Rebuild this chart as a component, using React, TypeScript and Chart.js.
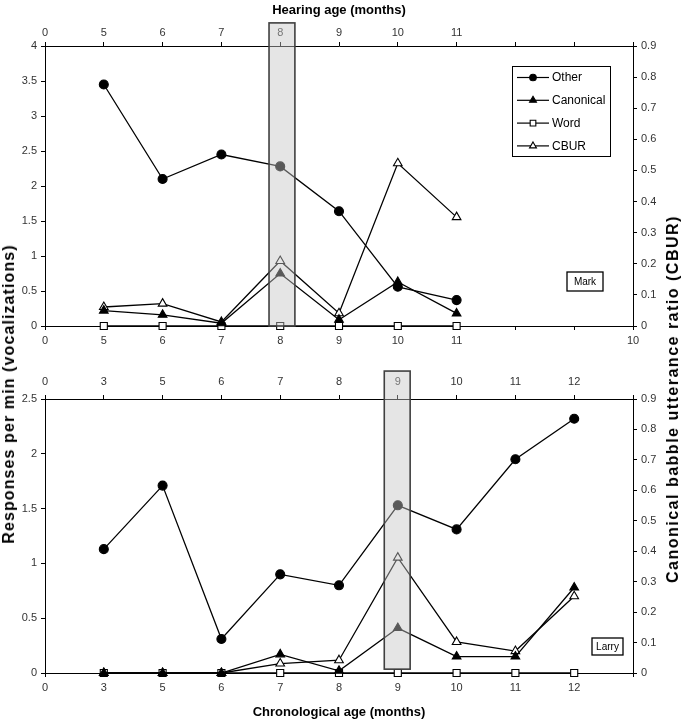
import React, { useEffect, useRef } from 'react';
import { Chart, registerables } from 'chart.js';

Chart.register(...registerables);

const FONT = '"Liberation Sans", Arial, Helvetica, sans-serif';
Chart.defaults.font.family = FONT;

// ---------- data ----------
const seriesNames = ['Other', 'Canonical', 'Word', 'CBUR'];

// Mark (top panel)
const markHearingLabels = ['0', '5', '6', '7', '8', '9', '10', '11', '', '', ''];
const markChronoLabels = ['0', '5', '6', '7', '8', '9', '10', '11', '', '', '10'];
const markOther = [3.45, 2.1, 2.45, 2.28, 1.64, 0.56, 0.37];
const markCanonical = [0.22, 0.16, 0.04, 0.75, 0.09, 0.63, 0.18];
const markWord = [0, 0, 0, 0, 0, 0, 0];
const markCBUR = [0.061, 0.072, 0.013, 0.209, 0.041, 0.523, 0.35];

// Larry (bottom panel)
const larryHearingLabels = ['0', '3', '5', '6', '7', '8', '9', '10', '11', '12', ''];
const larryChronoLabels = ['0', '3', '5', '6', '7', '8', '9', '10', '11', '12', ''];
const larryOther = [1.13, 1.71, 0.31, 0.9, 0.8, 1.53, 1.31, 1.95, 2.32];
const larryCanonical = [0, 0, 0, 0.17, 0.02, 0.41, 0.15, 0.15, 0.78];
const larryWord = [0, 0, 0, 0, 0, 0, 0, 0, 0];
const larryCBUR = [0, 0, 0, 0.031, 0.042, 0.379, 0.102, 0.072, 0.252];

// ---------- drawing helpers ----------
function drawMarker(ctx: CanvasRenderingContext2D, style: string, fill: string, x: number, y: number, r: number) {
  ctx.save();
  ctx.fillStyle = fill;
  ctx.strokeStyle = '#000';
  ctx.lineWidth = 1.1;
  ctx.beginPath();
  if (style === 'circle') {
    ctx.arc(x, y, r, 0, Math.PI * 2);
  } else if (style === 'triangle') {
    ctx.moveTo(x, y - r);
    ctx.lineTo(x + r * 0.866, y + r * 0.5);
    ctx.lineTo(x - r * 0.866, y + r * 0.5);
    ctx.closePath();
  } else {
    const s = r * 0.707;
    ctx.rect(x - s, y - s, 2 * s, 2 * s);
  }
  ctx.fill();
  ctx.stroke();
  ctx.restore();
}

const markerStyles = [
  { style: 'circle', fill: '#000' },
  { style: 'triangle', fill: '#000' },
  { style: 'rect', fill: '#fff' },
  { style: 'triangle', fill: '#fff' },
];

const fmtNum = (v: any) => String(Math.round(Number(v) * 100) / 100);

const overlayPlugin = {
  id: 'overlay',
  afterDatasetsDraw(chart: any, _args: any, opts: any) {
    const { ctx, scales } = chart;
    const h = opts.highlight;
    if (!h) return;
    const x0 = scales.x.getPixelForValue(h.from);
    const x1 = scales.x.getPixelForValue(h.to);
    const yb = scales.y.getPixelForValue(h.yFrom);
    const yt = scales.y.getPixelForValue(h.yTo);
    ctx.save();
    ctx.fillStyle = 'rgba(198,198,198,0.45)';
    ctx.fillRect(x0, yt, x1 - x0, yb - yt);
    ctx.strokeStyle = '#404040';
    ctx.lineWidth = 1.6;
    ctx.strokeRect(x0, yt, x1 - x0, yb - yt);
    ctx.restore();
  },
  afterDraw(chart: any, _args: any, opts: any) {
    const { ctx, chartArea } = chart;
    ctx.save();
    if (opts.legend) {
      const left = chartArea.right - 121;
      const top = chartArea.top + 20;
      const w = 98;
      const h = 90;
      ctx.fillStyle = '#fff';
      ctx.fillRect(left, top, w, h);
      ctx.strokeStyle = '#000';
      ctx.lineWidth = 1;
      ctx.strokeRect(left + 0.5, top + 0.5, w, h);
      chart.data.datasets.forEach((ds: any, i: number) => {
        const y = top + 11.5 + i * 22.8;
        ctx.strokeStyle = '#000';
        ctx.lineWidth = 1.2;
        ctx.beginPath();
        ctx.moveTo(left + 5, y);
        ctx.lineTo(left + 37, y);
        ctx.stroke();
        const m = markerStyles[i];
        drawMarker(ctx, m.style, m.fill, left + 21, y, m.style === 'circle' ? 3.3 : 4);
        ctx.fillStyle = '#000';
        ctx.font = '12px ' + FONT;
        ctx.textAlign = 'left';
        ctx.textBaseline = 'middle';
        ctx.fillText(ds.label, left + 40, y + 0.5);
      });
    }
    if (opts.nameBox) {
      const b = opts.nameBox;
      const l = chartArea.right - b.r;
      const t = chartArea.bottom - b.b;
      ctx.fillStyle = '#fff';
      ctx.fillRect(l, t, b.w, b.h);
      ctx.strokeStyle = '#000';
      ctx.lineWidth = 1.3;
      ctx.strokeRect(l, t, b.w, b.h);
      ctx.fillStyle = '#000';
      ctx.font = '10px ' + FONT;
      ctx.textAlign = 'center';
      ctx.textBaseline = 'middle';
      ctx.fillText(b.text, l + b.w / 2, t + b.h / 2 + 0.5);
    }
    ctx.restore();
  },
};

type Spec = {
  topLabels: string[];
  bottomLabels: string[];
  series: number[][];
  yMax: number;
  canvasH: number;
  topH: number;
  bottomH: number;
  topPad: number;
  topTitle?: string;
  bottomTitle?: string;
  highlight: { from: number; to: number; yFrom: number; yTo: number };
  legend: boolean;
  nameBox: { text: string; r: number; b: number; w: number; h: number };
};

const tickFont = { family: FONT, size: 11 };
const gridOpts = {
  display: true,
  drawOnChartArea: false,
  drawTicks: true,
  tickLength: 4,
  color: '#000',
  lineWidth: 1,
};
const borderOpts = { display: true, color: '#000', width: 1 };

function Panel({ spec, top }: { spec: Spec; top: number }) {
  const ref = useRef<HTMLCanvasElement>(null);
  useEffect(() => {
    const mk = (arr: number[]) => arr.map((v, i) => ({ x: i + 1, y: v }));
    const datasets = spec.series.map((arr, i) => {
      const m = markerStyles[i];
      return {
        label: seriesNames[i],
        data: mk(arr),
        yAxisID: i === 3 ? 'y1' : 'y',
        xAxisID: 'x',
        borderColor: '#000',
        borderWidth: 1.3,
        backgroundColor: m.fill,
        pointStyle: m.style,
        pointRadius: m.style === 'circle' ? 4.5 : 5,
        pointBackgroundColor: m.fill,
        pointBorderColor: '#000',
        pointBorderWidth: 1.1,
        tension: 0,
        fill: false,
        clip: false as any,
      };
    });
    const chart = new Chart(ref.current as HTMLCanvasElement, {
      type: 'line',
      data: { datasets: datasets as any },
      options: {
        animation: false,
        responsive: false,
        layout: { padding: 0 },
        plugins: {
          legend: { display: false },
          tooltip: { enabled: false },
          overlay: { highlight: spec.highlight, legend: spec.legend, nameBox: spec.nameBox },
        } as any,
        scales: {
          x: {
            type: 'linear',
            position: 'bottom',
            min: 0,
            max: 10,
            ticks: {
              stepSize: 1,
              autoSkip: false,
              maxRotation: 0,
              font: tickFont,
              color: '#333',
              padding: 4,
              callback: (v: any) => spec.bottomLabels[Math.round(v)] ?? '',
            },
            grid: gridOpts,
            border: borderOpts,
            title: spec.bottomTitle
              ? { display: true, text: spec.bottomTitle, font: { family: FONT, size: 13, weight: 'bold' }, color: '#000', padding: { top: 0, bottom: 0 } }
              : { display: false },
            afterFit: (s: any) => { s.height = spec.bottomH; },
          },
          x2: {
            type: 'linear',
            position: 'top',
            axis: 'x',
            min: 0,
            max: 10,
            ticks: {
              stepSize: 1,
              autoSkip: false,
              maxRotation: 0,
              font: tickFont,
              color: '#333',
              padding: spec.topPad,
              callback: (v: any) => spec.topLabels[Math.round(v)] ?? '',
            },
            grid: gridOpts,
            border: borderOpts,
            title: spec.topTitle
              ? { display: true, text: spec.topTitle, font: { family: FONT, size: 13, weight: 'bold' }, color: '#000', padding: { top: 2.5, bottom: 0 } }
              : { display: false },
            afterFit: (s: any) => { s.height = spec.topH; },
          },
          y: {
            type: 'linear',
            position: 'left',
            min: 0,
            max: spec.yMax,
            ticks: { stepSize: 0.5, font: tickFont, color: '#333', padding: 4, callback: fmtNum },
            grid: gridOpts,
            border: borderOpts,
            afterFit: (s: any) => { s.width = 45; },
          },
          y1: {
            type: 'linear',
            position: 'right',
            min: 0,
            max: 0.9,
            ticks: { stepSize: 0.1, font: tickFont, color: '#333', padding: 4, callback: fmtNum },
            grid: gridOpts,
            border: borderOpts,
            afterFit: (s: any) => { s.width = 52; },
          },
        } as any,
      },
      plugins: [overlayPlugin as any],
    });
    return () => chart.destroy();
  }, []);
  return (
    <canvas
      ref={ref}
      width={685}
      height={spec.canvasH}
      style={{ position: 'absolute', left: 0, top, display: 'block', width: 685, height: spec.canvasH }}
    />
  );
}

const markSpec: Spec = {
  topLabels: markHearingLabels,
  bottomLabels: markChronoLabels,
  series: [markOther, markCanonical, markWord, markCBUR],
  yMax: 4,
  canvasH: 350,
  topH: 46,
  bottomH: 24,
  topPad: 2,
  topTitle: 'Hearing age (months)',
  highlight: { from: 3.81, to: 4.25, yFrom: 0, yTo: 4.33 },
  legend: true,
  nameBox: { text: 'Mark', r: 66, b: 54, w: 36, h: 19 },
};

const larrySpec: Spec = {
  topLabels: larryHearingLabels,
  bottomLabels: larryChronoLabels,
  series: [larryOther, larryCanonical, larryWord, larryCBUR],
  yMax: 2.5,
  canvasH: 370,
  topH: 49,
  bottomH: 47,
  topPad: 6,
  bottomTitle: 'Chronological age (months)',
  highlight: { from: 5.77, to: 6.21, yFrom: 0.035, yTo: 2.755 },
  legend: false,
  nameBox: { text: 'Larry', r: 41, b: 35, w: 31, h: 17 },
};

const vTitle: React.CSSProperties = {
  position: 'absolute',
  fontFamily: FONT,
  fontWeight: 'bold',
  fontSize: 16,
  color: '#000',
  whiteSpace: 'nowrap',
  lineHeight: '18px',
  transform: 'translate(-50%, -50%) rotate(-90deg)',
};

export default function App() {
  return (
    <div style={{ position: 'absolute', left: 0, top: 0, width: 685, height: 720, background: '#fff' }}>
      <Panel spec={markSpec} top={0} />
      <Panel spec={larrySpec} top={350} />
      <div style={{ ...vTitle, left: 9, top: 394, letterSpacing: '1.1px' }}>
        Responses per min (vocalizations)
      </div>
      <div style={{ ...vTitle, left: 673, top: 399, letterSpacing: '1.5px' }}>
        Canonical babble utterance ratio (CBUR)
      </div>
    </div>
  );
}
